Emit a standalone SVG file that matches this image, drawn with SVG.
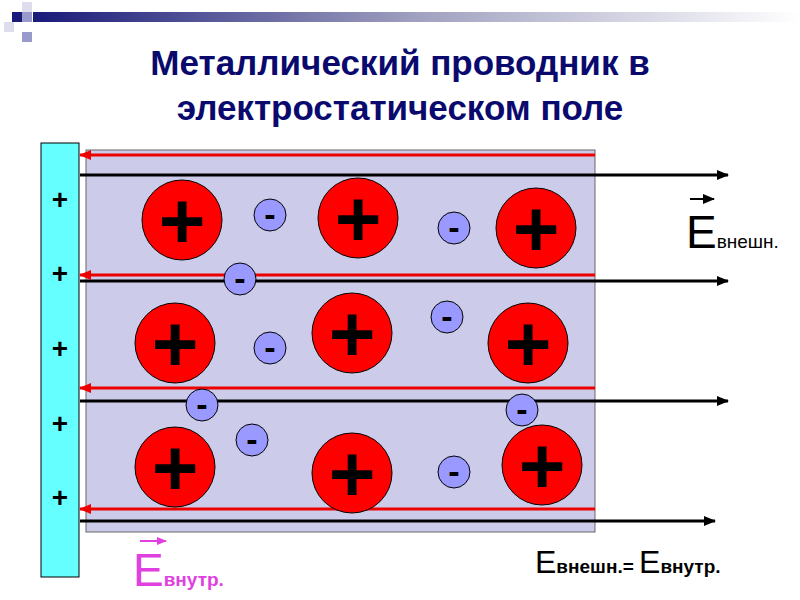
<svg xmlns="http://www.w3.org/2000/svg" width="800" height="600" viewBox="0 0 800 600">
<defs>
<linearGradient id="g" x1="0" x2="1"><stop offset="0" stop-color="#1a1a7a"/><stop offset="0.5" stop-color="#a0a0c0"/><stop offset="1" stop-color="#ffffff"/></linearGradient>
<marker id="ab" markerWidth="12" markerHeight="10" refX="11" refY="5" orient="auto" markerUnits="userSpaceOnUse"><path d="M0,0L12,5L0,10z" fill="#000"/></marker>
<marker id="ar" markerWidth="12" markerHeight="10" refX="11" refY="5" orient="auto" markerUnits="userSpaceOnUse"><path d="M0,0L12,5L0,10z" fill="#e00"/></marker>
<marker id="am" markerWidth="10" markerHeight="8" refX="9" refY="4" orient="auto" markerUnits="userSpaceOnUse"><path d="M0,0L10,4L0,8z" fill="#e040e0"/></marker>
<style>
.big{fill:#f00;stroke:#000;stroke-width:1}
.sm{fill:#9999ff;stroke:#000;stroke-width:1}
.pl{font:bold 80px "Liberation Sans",sans-serif;text-anchor:middle}
.mi{font:bold 34px "Liberation Sans",sans-serif;text-anchor:middle}
.bl{stroke:#000;stroke-width:3;marker-end:url(#ab)}
.rd{stroke:#e00;stroke-width:3;marker-end:url(#ar)}
.pp{font:bold 28px "Liberation Sans",sans-serif;text-anchor:middle}
</style>
</defs>
<rect x="33" y="12" width="767" height="10" fill="url(#g)"/>
<rect x="12" y="12" width="10" height="10" fill="#1a1a7a"/>
<rect x="22" y="12" width="10" height="10" fill="#9999cc"/>
<rect x="4" y="22" width="10" height="10" fill="#ddddee"/>
<rect x="22" y="2" width="10" height="10" fill="#ddddee"/>
<rect x="22" y="32" width="10" height="10" fill="#9999cc"/>
<text x="400" y="75" text-anchor="middle" font-family="Liberation Sans,sans-serif" font-weight="bold" font-size="35" fill="#0a0a6e">Металлический проводник в</text>
<text x="400" y="120" text-anchor="middle" font-family="Liberation Sans,sans-serif" font-weight="bold" font-size="35" fill="#0a0a6e">электростатическом поле</text>
<rect x="86" y="150" width="509" height="382" fill="#ccccea" stroke="#666"/>
<g id="plate">
<rect x="41" y="143" width="38" height="434" fill="#66ffff" stroke="#000"/>
<g class="pp"><text x="60" y="209">+</text><text x="60" y="283">+</text><text x="60" y="358">+</text><text x="60" y="433">+</text><text x="60" y="507">+</text></g>
</g>
<g id="connectors">
<line class="bl" x1="80" y1="175" x2="728" y2="175"/>
<line class="bl" x1="80" y1="281" x2="728" y2="281"/>
<line class="bl" x1="80" y1="401" x2="728" y2="401"/>
<line class="bl" x1="80" y1="521" x2="715" y2="521"/>
<line class="rd" x1="595" y1="155" x2="80" y2="155"/>
<line class="rd" x1="595" y1="275" x2="80" y2="275"/>
<line class="rd" x1="595" y1="388" x2="80" y2="388"/>
<line class="rd" x1="595" y1="509" x2="80" y2="509"/>
</g>
<g id="ions">
<circle class="big" cx="182" cy="220" r="40"/><text class="pl" x="182" y="248">+</text>
<circle class="big" cx="358" cy="218" r="40"/><text class="pl" x="358" y="246">+</text>
<circle class="big" cx="536" cy="228" r="40"/><text class="pl" x="536" y="256">+</text>
<circle class="big" cx="175" cy="343" r="40"/><text class="pl" x="175" y="371">+</text>
<circle class="big" cx="352" cy="333" r="40"/><text class="pl" x="352" y="361">+</text>
<circle class="big" cx="528" cy="343" r="40"/><text class="pl" x="528" y="371">+</text>
<circle class="big" cx="175" cy="467" r="40"/><text class="pl" x="175" y="495">+</text>
<circle class="big" cx="352" cy="473" r="40"/><text class="pl" x="352" y="501">+</text>
<circle class="big" cx="542" cy="465" r="40"/><text class="pl" x="542" y="493">+</text>
</g>
<g id="electrons">
<circle class="sm" cx="270" cy="215" r="16"/><text class="mi" x="270" y="226">-</text>
<circle class="sm" cx="454" cy="228" r="16"/><text class="mi" x="454" y="239">-</text>
<circle class="sm" cx="240" cy="279" r="16"/><text class="mi" x="240" y="290">-</text>
<circle class="sm" cx="447" cy="317" r="16"/><text class="mi" x="447" y="328">-</text>
<circle class="sm" cx="270" cy="348" r="16"/><text class="mi" x="270" y="359">-</text>
<circle class="sm" cx="202" cy="405" r="16"/><text class="mi" x="202" y="416">-</text>
<circle class="sm" cx="522" cy="410" r="16"/><text class="mi" x="522" y="421">-</text>
<circle class="sm" cx="252" cy="440" r="16"/><text class="mi" x="252" y="451">-</text>
<circle class="sm" cx="454" cy="472" r="16"/><text class="mi" x="454" y="483">-</text>
</g>
<g id="labels" font-family="Liberation Sans,sans-serif">
<line x1="690" y1="199" x2="714" y2="199" stroke="#000" stroke-width="2" marker-end="url(#ab)"/>
<text x="686" y="248" font-size="46">E<tspan font-size="19">внешн.</tspan></text>
<line x1="140" y1="541" x2="166" y2="541" stroke="#e040e0" stroke-width="2" marker-end="url(#am)"/>
<text x="133" y="586" font-size="46" fill="#e040e0">E<tspan font-size="19" font-weight="bold">внутр.</tspan></text>
<text x="535" y="573" font-size="32">E<tspan font-size="19" font-weight="bold">внешн.= </tspan>E<tspan font-size="19" font-weight="bold">внутр.</tspan></text>
</g>
</svg>
